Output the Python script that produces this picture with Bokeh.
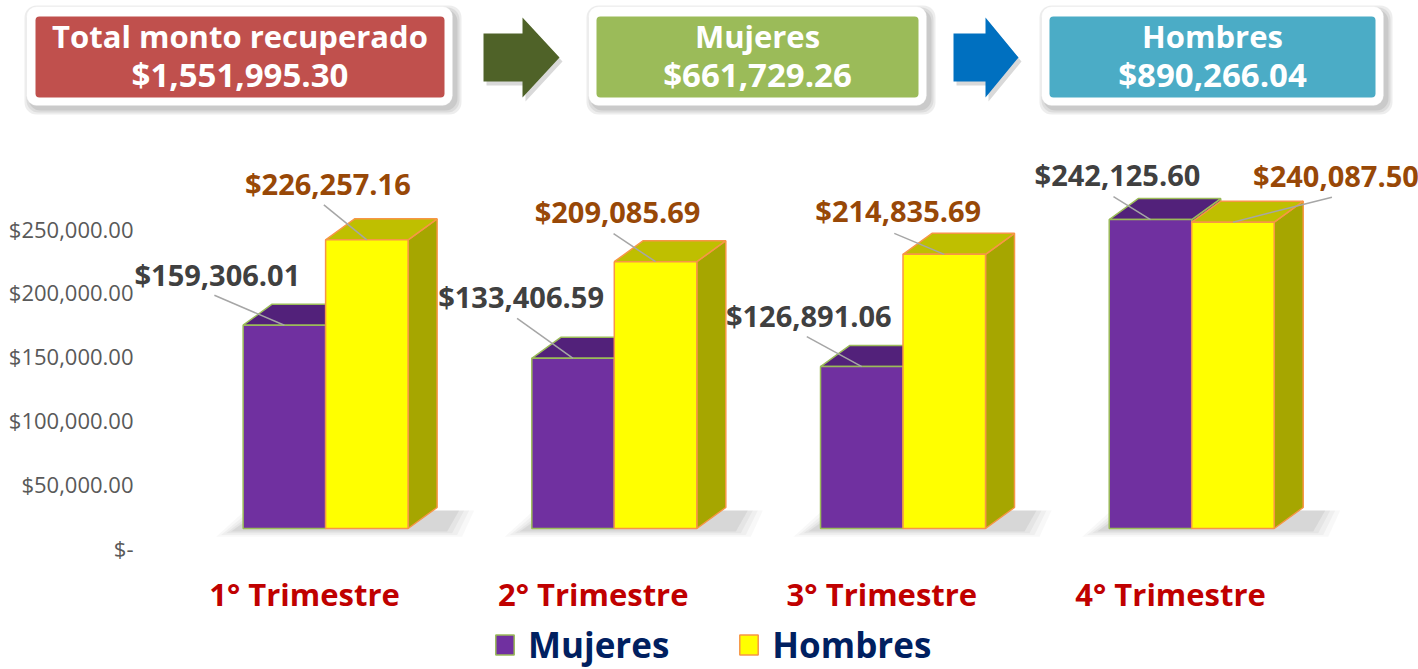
from bokeh.plotting import figure
from bokeh.models import (Range1d, FixedTicker, Legend, LegendItem, ColumnDataSource,
                          BoxAnnotation, Label)
from bokeh.core.properties import value
from bokeh.embed import file_html
from bokeh.resources import INLINE

# ---------------- data ----------------
categories = ["1° Trimestre", "2° Trimestre", "3° Trimestre", "4° Trimestre"]
mujeres = [159306.01, 133406.59, 126891.06, 242125.60]
hombres = [226257.16, 209085.69, 214835.69, 240087.50]
mujeres_labels = ["$159,306.01", "$133,406.59", "$126,891.06", "$242,125.60"]
hombres_labels = ["$226,257.16", "$209,085.69", "$214,835.69", "$240,087.50"]
y_tick_values = [0, 50000, 100000, 150000, 200000, 250000]
y_tick_labels = ["$-", "$50,000.00", "$100,000.00", "$150,000.00", "$200,000.00", "$250,000.00"]
header_titles = ["Total monto recuperado", "Mujeres", "Hombres"]
header_values = ["$1,551,995.30", "$661,729.26", "$890,266.04"]
series_names = ["Mujeres", "Hombres"]

FONT = "Open Sans"

# ---------------- layout constants (canvas pixels) ----------------
W, H = 1418, 669
BORDER_L = 20
FRAME_L, FRAME_R, FRAME_T, FRAME_B = BORDER_L, W, 0, H
X_ORIGIN_PX, X_UNIT_PX = 15.3, 288.7   # px of x=0, px per category unit
BASE_PX, Y_UNIT = 528.0, 783.7          # px of value 0, value units per px

def XD(px):
    return (px - X_ORIGIN_PX) / X_UNIT_PX

def YD(py):
    return (BASE_PX - py) * Y_UNIT

X0, X1 = XD(FRAME_L), XD(FRAME_R)
Y0, Y1 = YD(FRAME_B), YD(FRAME_T)
PX_X = 1.0 / X_UNIT_PX
PX_Y = Y_UNIT

p = figure(width=W, height=H, x_range=Range1d(X0, X1), y_range=Range1d(Y0, Y1),
           output_backend="svg", toolbar_location=None, title=None,
           min_border_left=BORDER_L, min_border_right=0, min_border_top=0, min_border_bottom=0,
           x_axis_location=None, outline_line_color=None)
p.grid.visible = False

# y axis: labels sit on the back wall, a little below the front face
AXIS_SHIFT = 14900
LABEL_RIGHT_PX = 133
ticks = [t - AXIS_SHIFT for t in y_tick_values]
p.yaxis.ticker = FixedTicker(ticks=ticks)
p.yaxis.major_label_overrides = {t: lab for t, lab in zip(ticks, y_tick_labels)}
p.yaxis.axis_line_color = None
p.yaxis.major_tick_line_color = None
p.yaxis.minor_tick_line_color = None
p.yaxis.major_tick_out = 0
p.yaxis.major_tick_in = 0
p.yaxis.major_label_standoff = -(LABEL_RIGHT_PX - BORDER_L)
p.yaxis.major_label_text_font = FONT
p.yaxis.major_label_text_font_size = "22px"
p.yaxis.major_label_text_color = "#595959"

# ---------------- header ----------------
outer_l = [26, 588, 1041]
outer_r = [452, 926, 1383]
inner_l = [35, 596, 1049]
inner_r = [444, 918, 1375]
box_colors = ["#C0504D", "#9BBB59", "#4BACC6"]

for ol, orr, il, ir, col in zip(outer_l, outer_r, inner_l, inner_r, box_colors):
    for k, a in enumerate([0.07, 0.07, 0.08]):
        e = 4 - 2 * k
        p.add_layout(BoxAnnotation(left=XD(ol + 2 - e), right=XD(orr + 5 + e),
                                   top=YD(9 - e), bottom=YD(110 + e),
                                   fill_color="#000000", fill_alpha=a, line_color=None,
                                   border_radius=12, level="underlay"))
    p.add_layout(BoxAnnotation(left=XD(ol), right=XD(orr), top=YD(6), bottom=YD(105),
                               fill_color="white", fill_alpha=1, line_color="#E0E0E0",
                               line_width=1, border_radius=10, level="underlay"))
    p.add_layout(BoxAnnotation(left=XD(il), right=XD(ir), top=YD(16), bottom=YD(97),
                               fill_color=col, fill_alpha=1, line_color=None,
                               border_radius=4, level="underlay"))

for il, ir, t1, t2 in zip(inner_l, inner_r, header_titles, header_values):
    cx = XD((il + ir) / 2)
    for txt, yy, fs in ((t1, 35, "31px"), (t2, 74, "33px")):
        p.add_layout(Label(x=cx, y=YD(yy), text=txt, text_align="center",
                           text_baseline="middle", text_color="white", text_font=FONT,
                           text_font_style="bold", text_font_size=fs))

def arrow(x0, x1, x2, dy=0):
    return ([XD(v) for v in (x0, x1, x1, x2, x1, x1, x0)],
            [YD(v + dy) for v in (33, 33, 17, 57, 97, 81, 81)])

a1 = arrow(483, 522, 559)
a2 = arrow(953, 985, 1018)
s1 = arrow(486, 525, 562, 4)
s2 = arrow(956, 988, 1021, 4)
p.patches(xs=[s1[0], s2[0]], ys=[s1[1], s2[1]], fill_color="#000000", fill_alpha=0.15,
          line_color=None)
p.patches(xs=[a1[0], a2[0]], ys=[a1[1], a2[1]], fill_color=["#4F6228", "#0070C0"], line_color=None)

# ---------------- 3D bars ----------------
xs = [1, 2, 3, 4]
HW = 0.1429
m_c = [x - 0.0697 for x in xs]
h_c = [x + 0.2160 for x in xs]
DX = 29 * PX_X
DY = 21 * PX_Y

# soft floor shadows
for k, a in enumerate([0.04, 0.05, 0.06, 0.09]):
    e = (3 - k) * 5
    sx, sy = [], []
    for mc, hc in zip(m_c, h_c):
        L = mc - HW - (12 + e) * PX_X
        R = hc + HW + DX + (22 + e) * PX_X
        b = -(3 + e * 0.35) * PX_Y
        t = DY - 3 * PX_Y
        sx.append([L, R - 12 * PX_X, R, L + DX])
        sy.append([b, b, t, t])
    p.patches(xs=sx, ys=sy, fill_color="#505050", fill_alpha=a, line_color=None)

def faces(cs, vals):
    tops_x, tops_y, side_x, side_y = [], [], [], []
    for c, v in zip(cs, vals):
        L, R = c - HW, c + HW
        tops_x.append([L, R, R + DX, L + DX])
        tops_y.append([v, v, v + DY, v + DY])
        side_x.append([R, R + DX, R + DX, R])
        side_y.append([0, DY, v + DY, v])
    return tops_x, tops_y, side_x, side_y

mt = faces(m_c, mujeres)
ht = faces(h_c, hombres)

p.patches(xs=mt[2], ys=mt[3], fill_color="#5A2585", line_color="#9BBB59", line_width=1.5)
p.patches(xs=mt[0], ys=mt[1], fill_color="#52217A", line_color="#9BBB59", line_width=1.5)
front_m = p.quad(left=[c - HW for c in m_c], right=[c + HW for c in m_c], bottom=0, top=mujeres,
                 fill_color="#7030A0", line_color="#9BBB59", line_width=1.5)
p.patches(xs=ht[2], ys=ht[3], fill_color="#A6A600", line_color="#F79646", line_width=1.5)
p.patches(xs=ht[0], ys=ht[1], fill_color="#BFBF00", line_color="#F79646", line_width=1.5)
front_h = p.quad(left=[c - HW for c in h_c], right=[c + HW for c in h_c], bottom=0, top=hombres,
                 fill_color="#FFFF00", line_color="#F79646", line_width=1.5)

# ---------------- data labels with leader lines (offsets in screen px) ----------------
m_lab_off = [(-67, -51), (-52, -62), (-53, -51), (-33, -45)]
m_lead_off = [(-70, -30), (-56, -40), (-55, -30), (-37, -23)]
h_lab_off = [(-39, -56), (-38, -50), (-46, -44), (103, -47)]
h_lead_off = [(-43, -35), (-42, -28), (-50, -21), (99, -25)]

def leaders(cs, vals, offs):
    return dict(x0=cs, y0=vals,
                x1=[c + o[0] * PX_X for c, o in zip(cs, offs)],
                y1=[v - o[1] * PX_Y for v, o in zip(vals, offs)])

p.segment(**leaders(m_c, mujeres, m_lead_off), line_color="#A6A6A6", line_width=1.5)
p.segment(**leaders(h_c, hombres, h_lead_off), line_color="#A6A6A6", line_width=1.5)

src_m = ColumnDataSource(dict(x=m_c, y=mujeres, t=mujeres_labels,
                              xo=[o[0] for o in m_lab_off], yo=[o[1] for o in m_lab_off]))
src_h = ColumnDataSource(dict(x=h_c, y=hombres, t=hombres_labels,
                              xo=[o[0] for o in h_lab_off], yo=[o[1] for o in h_lab_off]))
p.text(x="x", y="y", text="t", x_offset="xo", y_offset="yo", source=src_m,
       text_align="center", text_baseline="middle", text_color="#404040",
       text_font=value(FONT), text_font_style="bold", text_font_size="29px")
p.text(x="x", y="y", text="t", x_offset="xo", y_offset="yo", source=src_h,
       text_align="center", text_baseline="middle", text_color="#984807",
       text_font=value(FONT), text_font_style="bold", text_font_size="29px")

# category labels
p.text(x=xs, y=[0] * 4, text=categories, y_offset=65, text_align="center",
       text_baseline="middle", text_color="#C00000", text_font=value(FONT),
       text_font_style="bold", text_font_size="31px")

legend = Legend(items=[LegendItem(label=series_names[0], renderers=[front_m]),
                       LegendItem(label=series_names[1], renderers=[front_h])],
                location=(473, 1), orientation="horizontal", glyph_width=23, glyph_height=25,
                label_standoff=12, spacing=68, padding=0, margin=0,
                border_line_color=None, background_fill_alpha=0,
                label_text_font=FONT, label_text_font_style="bold",
                label_text_font_size="35px", label_text_color="#002060")
p.add_layout(legend)

open("out.html", "w").write(file_html(p, INLINE))
